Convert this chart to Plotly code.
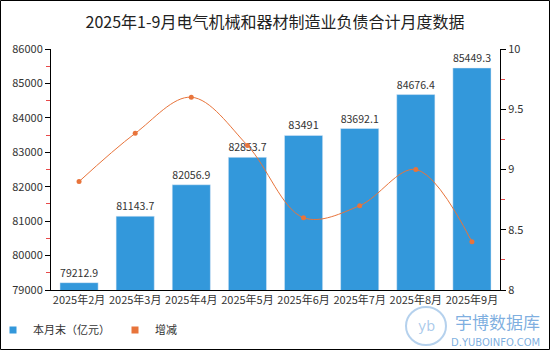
import plotly.graph_objects as go

months = ["2025年2月", "2025年3月", "2025年4月", "2025年5月", "2025年6月", "2025年7月", "2025年8月", "2025年9月"]
values = [79212.9, 81143.7, 82056.9, 82853.7, 83491, 83692.1, 84676.4, 85449.3]
value_labels = ["79212.9", "81143.7", "82056.9", "82853.7", "83491", "83692.1", "84676.4", "85449.3"]
change = [8.9, 9.3, 9.6, 9.2, 8.6, 8.7, 9.0, 8.4]

W, H = 550, 350
L, R, T, B = 51, 50, 49, 60
pw, ph = W - L - R, H - T - B

font_cjk = "Noto Sans CJK SC"
BLUE = "#3398DB"
ORANGE = "#E8743B"

fig = go.Figure()
fig.add_trace(go.Bar(
    x=months, y=values, name="本月末（亿元）", showlegend=False,
    marker=dict(color=BLUE), width=0.68,
    text=value_labels, textposition="outside",
    textfont=dict(size=11, color="#333333", family=font_cjk),
    cliponaxis=False,
))
fig.add_trace(go.Scatter(
    x=months, y=change, name="增减", yaxis="y2", showlegend=False,
    mode="lines+markers",
    line=dict(color=ORANGE, width=1, shape="spline", smoothing=1.0),
    marker=dict(color=ORANGE, size=5),
))
# legend entries as small squares
fig.add_trace(go.Scatter(x=[None], y=[None], mode="markers", name="本月末（亿元）",
                         marker=dict(symbol="square", size=7, color=BLUE)))
fig.add_trace(go.Scatter(x=[None], y=[None], mode="markers", name="增减",
                         marker=dict(symbol="square", size=7, color=ORANGE)))

def px_x(p):
    return (p - L) / pw

def px_y(p):
    return (H - B - p) / ph

fig.update_layout(
    width=W, height=H,
    margin=dict(l=L, r=R, t=T, b=B, autoexpand=False),
    paper_bgcolor="white", plot_bgcolor="white",
    font=dict(family=font_cjk, size=11, color="#333333"),
    title=dict(text="2025年1-9月电气机械和器材制造业负债合计月度数据",
               x=0.5, xanchor="center", y=1 - 22 / H, yanchor="middle",
               font=dict(size=16, color="#222222", family=font_cjk)),
    showlegend=True,
    legend=dict(orientation="h", x=px_x(-7), xanchor="left", y=px_y(330), yanchor="middle",
                font=dict(size=11, color="#333333"), itemwidth=30, traceorder="normal",
                bgcolor="rgba(0,0,0,0)", itemclick=False),
    xaxis=dict(showline=True, linecolor="#000000", linewidth=1, ticks="", showgrid=False,
               tickfont=dict(size=11, color="#333333")),
    yaxis=dict(range=[79000, 86000], dtick=1000, tickformat="d", showline=True,
               linecolor="#000000", linewidth=1,
               ticks="outside", ticklen=5, tickcolor="#000000", showgrid=False, zeroline=False,
               tickfont=dict(size=11, color="#333333"),
               minor=dict(dtick=500, ticks="outside", ticklen=4, tickcolor="#E84A4A")),
    yaxis2=dict(range=[8, 10], dtick=0.5, overlaying="y", side="right", showline=True,
                linecolor="#000000", linewidth=1, ticks="outside", ticklen=5, tickcolor="#000000",
                showgrid=False, zeroline=False, tickfont=dict(size=11, color="#333333"),
                minor=dict(dtick=0.25, ticks="outside", ticklen=4, tickcolor="#E84A4A")),
    shapes=[dict(type="rect", xref="paper", yref="paper",
                 x0=px_x(0.5), x1=px_x(W - 0.5), y0=px_y(H - 0.5), y1=px_y(0.5),
                 line=dict(color="#000000", width=1), fillcolor="rgba(0,0,0,0)", layer="above"),
            dict(type="circle", xref="paper", yref="paper",
                 x0=px_x(406), x1=px_x(446), y0=px_y(345), y1=px_y(307),
                 line=dict(color="rgba(70,140,210,0.4)", width=2))],
    annotations=[
        dict(text="宇博数据库", xref="paper", yref="paper", x=px_x(542), y=px_y(321),
             xanchor="right", yanchor="middle", showarrow=False,
             font=dict(size=17, color="rgba(70,140,210,0.7)", family=font_cjk)),
        dict(text="D.YUBOINFO.COM", xref="paper", yref="paper", x=px_x(542), y=px_y(342),
             xanchor="right", yanchor="middle", showarrow=False,
             font=dict(size=10, color="rgba(70,140,210,0.7)", family="DejaVu Sans")),
        dict(text="yb", xref="paper", yref="paper", x=px_x(426), y=px_y(326),
             xanchor="center", yanchor="middle", showarrow=False,
             font=dict(size=14, color="rgba(70,140,210,0.45)", family="DejaVu Sans")),
    ],
)

fig.write_html("out.html")
